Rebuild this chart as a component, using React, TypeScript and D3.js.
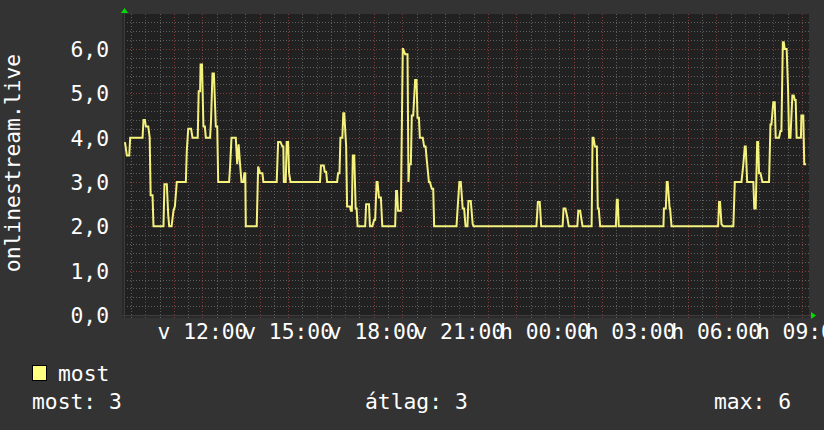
import React from "react";
import * as d3 from "d3";

// graph window: 24h, Sunday 09:15 -> Monday 09:15
const START = new Date(2023, 0, 8, 9, 15);
const END = new Date(2023, 0, 9, 9, 15);

const TITLE = "onlinestream.live";
const SERIES_NAME = "most";
const DAY_ABBR = ["v", "h", "k", "sze", "cs", "p", "szo"];
const Y_TICKS = [0, 1, 2, 3, 4, 5, 6];

// [minutes since START, value]
const samples: [number, number][] = [
  [2, 3.9], [6, 3.6], [11, 3.6], [13, 4.0], [39, 4.0], [41, 4.4], [44, 4.4], [46, 4.25],
  [51, 4.25], [54, 4.0], [56, 2.7], [60, 2.7], [62, 2.0], [83, 2.0], [85, 2.95], [90, 2.95],
  [93, 2.25], [95, 2.0], [100, 2.0], [104, 2.35], [107, 2.45], [111, 3.0], [130, 3.0],
  [132, 3.7], [135, 4.2], [141, 4.2], [144, 4.0], [155, 4.0], [157, 5.05], [160, 5.05],
  [161, 5.65], [164, 5.65], [167, 4.25], [170, 4.25], [172, 4.0], [181, 4.0], [183, 4.4],
  [186, 5.45], [189, 5.45], [193, 4.25], [196, 4.25], [198, 3.0], [221, 3.0], [223, 3.35],
  [226, 4.0], [235, 4.0], [238, 3.4], [241, 3.85], [244, 3.4], [247, 3.0], [251, 3.0],
  [253, 3.2], [255, 3.2], [256, 2.0], [279, 2.0], [282, 3.35], [286, 3.2], [291, 3.2],
  [293, 3.0], [321, 3.0], [324, 3.9], [329, 3.9], [333, 3.8], [335, 3.8], [336, 3.0],
  [340, 3.0], [342, 3.9], [345, 3.9], [347, 3.2], [350, 3.0], [412, 3.0], [414, 3.37],
  [420, 3.37], [422, 3.23], [425, 3.23], [427, 3.0], [448, 3.0], [450, 3.2], [453, 3.2],
  [455, 4.0], [459, 4.0], [461, 4.55], [463, 4.55], [467, 3.8], [469, 2.45], [475, 2.45],
  [477, 2.35], [479, 2.35], [481, 3.6], [484, 3.6], [487, 2.4], [489, 2.4], [491, 2.0],
  [507, 2.0], [509, 2.5], [515, 2.5], [517, 2.0], [522, 2.0], [526, 2.15], [528, 2.15],
  [531, 3.0], [533, 3.0], [536, 2.65], [540, 2.65], [543, 2.0], [570, 2.0], [572, 2.8],
  [574, 2.8], [576, 2.35], [582, 2.35], [586, 6.0], [587, 6.0], [591, 5.88], [596, 5.88],
  [598, 3.0], [600, 3.4], [603, 3.4], [605, 4.5], [608, 4.5], [612, 5.3], [615, 5.3],
  [617, 4.45], [620, 4.45], [622, 4.0], [628, 4.0], [631, 3.8], [634, 3.8], [636, 3.55],
  [641, 3.0], [643, 3.0], [647, 2.85], [650, 2.85], [652, 2.0], [699, 2.0], [701, 2.35],
  [705, 3.0], [708, 3.0], [712, 2.4], [715, 2.4], [718, 2.0], [722, 2.0], [724, 2.57],
  [729, 2.57], [733, 2.05], [735, 2.0], [867, 2.0], [870, 2.55], [874, 2.55], [877, 2.0],
  [922, 2.0], [924, 2.4], [928, 2.4], [932, 2.2], [935, 2.0], [953, 2.0], [955, 2.35],
  [959, 2.35], [961, 2.2], [964, 2.0], [983, 2.0], [985, 4.0], [987, 4.0], [990, 3.8],
  [994, 3.8], [996, 2.4], [998, 2.4], [1001, 2.0], [1034, 2.0], [1036, 2.6], [1038, 2.6],
  [1040, 2.0], [1134, 2.0], [1135, 2.4], [1139, 2.4], [1141, 3.0], [1143, 3.0], [1147, 2.4],
  [1148, 2.4], [1151, 2.0], [1249, 2.0], [1251, 2.55], [1253, 2.55], [1256, 2.05],
  [1260, 2.0], [1281, 2.0], [1284, 3.0], [1298, 3.0], [1302, 3.4], [1305, 3.8], [1307, 3.8],
  [1310, 3.0], [1323, 3.0], [1325, 2.4], [1328, 2.4], [1331, 3.9], [1333, 3.9], [1335, 3.2],
  [1338, 3.2], [1342, 3.0], [1356, 3.0], [1359, 4.3], [1361, 4.3], [1365, 4.8], [1368, 4.8],
  [1370, 4.0], [1377, 4.0], [1380, 4.15], [1382, 4.15], [1385, 6.15], [1387, 6.15],
  [1389, 6.0], [1393, 6.0], [1396, 5.1], [1398, 4.0], [1401, 4.0], [1405, 4.95], [1408, 4.95],
  [1410, 4.85], [1412, 4.85], [1414, 4.0], [1423, 4.0], [1424, 4.5], [1428, 4.5],
  [1430, 3.4], [1434, 3.4],
];

const W = 824;
const H = 430;
const FONT = "'DejaVu Sans Mono', monospace";
const FS = 21.33;

export default function App() {
  const left = 124, right = 809, top = 14, bottom = 315;

  const x = d3.scaleTime().domain([START, END]).range([left, right]);
  const y = d3.scaleLinear().domain([0, 6.79]).range([bottom, top]);

  const data = samples.map(([m, v]) => ({ t: d3.timeMinute.offset(START, m), v }));
  const line = d3
    .line<{ t: Date; v: number }>()
    .x((d) => x(d.t))
    .y((d) => y(d.v));

  const halfHours = d3.timeMinute.every(30)!.range(START, END);
  const hours = d3.timeHour.range(START, END);
  const labelHours = d3.timeHour.every(3)!.range(START, d3.timeHour.offset(END, 1));
  const minorY = d3.range(0, 6.8, 0.2);

  const fmt = (d: Date) => `${DAY_ABBR[d.getDay()]} ${d3.timeFormat("%H:%M")(d)}`;
  const yfmt = (v: number) => d3.format(".1f")(v).replace(".", ",");

  // stats
  const values = samples.map((s) => s[1]);
  const last = values[values.length - 1];
  const avg = d3.mean(values) ?? 0;
  const max = d3.max(values) ?? 0;
  const f0 = d3.format(".0f");

  const textStyle = { fontFamily: FONT, fontSize: FS, fill: "#ffffff" };

  return (
    <svg
      width={W}
      height={H}
      style={{ position: "absolute", left: 0, top: 0, background: "#333333" }}
    >
      <rect x={0} y={0} width={W} height={H} fill="#333333" />
      <rect x={left - 2} y={top} width={right - left + 2} height={bottom - top + 3} fill="#2a2a2a" />
      <rect x={left} y={top} width={right - left} height={bottom - top} fill="#212121" />

      {/* minor grid */}
      <g stroke="#5e5e5e" strokeWidth={1} strokeDasharray="1,2" shapeRendering="crispEdges">
        {minorY.map((v, i) => (
          <line key={"my" + i} x1={left} x2={right} y1={Math.round(y(v)) + 0.5} y2={Math.round(y(v)) + 0.5} />
        ))}
        {halfHours.map((d, i) => (
          <line key={"mx" + i} x1={Math.round(x(d)) + 0.5} x2={Math.round(x(d)) + 0.5} y1={top} y2={bottom + 3} />
        ))}
      </g>
      {/* major grid */}
      <g stroke="#7e3c3c" strokeWidth={1} strokeDasharray="1,2" shapeRendering="crispEdges">
        {Y_TICKS.map((v) => (
          <line key={"My" + v} x1={left} x2={right} y1={Math.round(y(v)) + 0.5} y2={Math.round(y(v)) + 0.5} />
        ))}
        {hours.map((d, i) => (
          <line key={"Mx" + i} x1={Math.round(x(d)) + 0.5} x2={Math.round(x(d)) + 0.5} y1={top} y2={bottom + 3} />
        ))}
      </g>

      {/* axes */}
      <line x1={left - 3} x2={right + 2} y1={bottom + 0.5} y2={bottom + 0.5} stroke="#3c3c3c" />
      <line x1={left + 0.5} x2={left + 0.5} y1={top - 2} y2={bottom + 3} stroke="#3c3c3c" />
      <path d={`M${left - 3},${top - 1}L${left + 4},${top - 1}L${left + 0.5},${top - 6}Z`} fill="#00dd00" />
      <path d={`M${right + 2},${bottom - 3}L${right + 2},${bottom + 4}L${right + 7},${bottom + 0.5}Z`} fill="#00dd00" />

      {/* series */}
      <path d={line(data) ?? ""} fill="none" stroke="#f4f27c" strokeWidth={2} strokeLinejoin="miter" />

      {/* y labels */}
      {Y_TICKS.map((v) => (
        <text key={"yl" + v} x={109} y={y(v) + 8} textAnchor="end" style={textStyle}>
          {yfmt(v)}
        </text>
      ))}
      {/* x labels */}
      {labelHours.map((d, i) => (
        <text key={"xl" + i} x={x(d)} y={339} textAnchor="middle" style={textStyle}>
          {fmt(d)}
        </text>
      ))}

      {/* title */}
      <text
        transform={`translate(19.5,${163}) rotate(-90)`}
        textAnchor="middle"
        style={textStyle}
      >
        {TITLE}
      </text>

      {/* legend */}
      <rect x={32.5} y={365.5} width={14} height={15} fill="#ffff80" stroke="#000" />
      <text x={58} y={381} style={textStyle}>{SERIES_NAME}</text>
      <text x={32} y={409} style={textStyle}>{`${SERIES_NAME}: ${f0(last)}`}</text>
      <text x={365} y={409} style={textStyle}>{`átlag: ${f0(avg)}`}</text>
      <text x={714} y={409} style={textStyle}>{`max: ${f0(max)}`}</text>
    </svg>
  );
}
